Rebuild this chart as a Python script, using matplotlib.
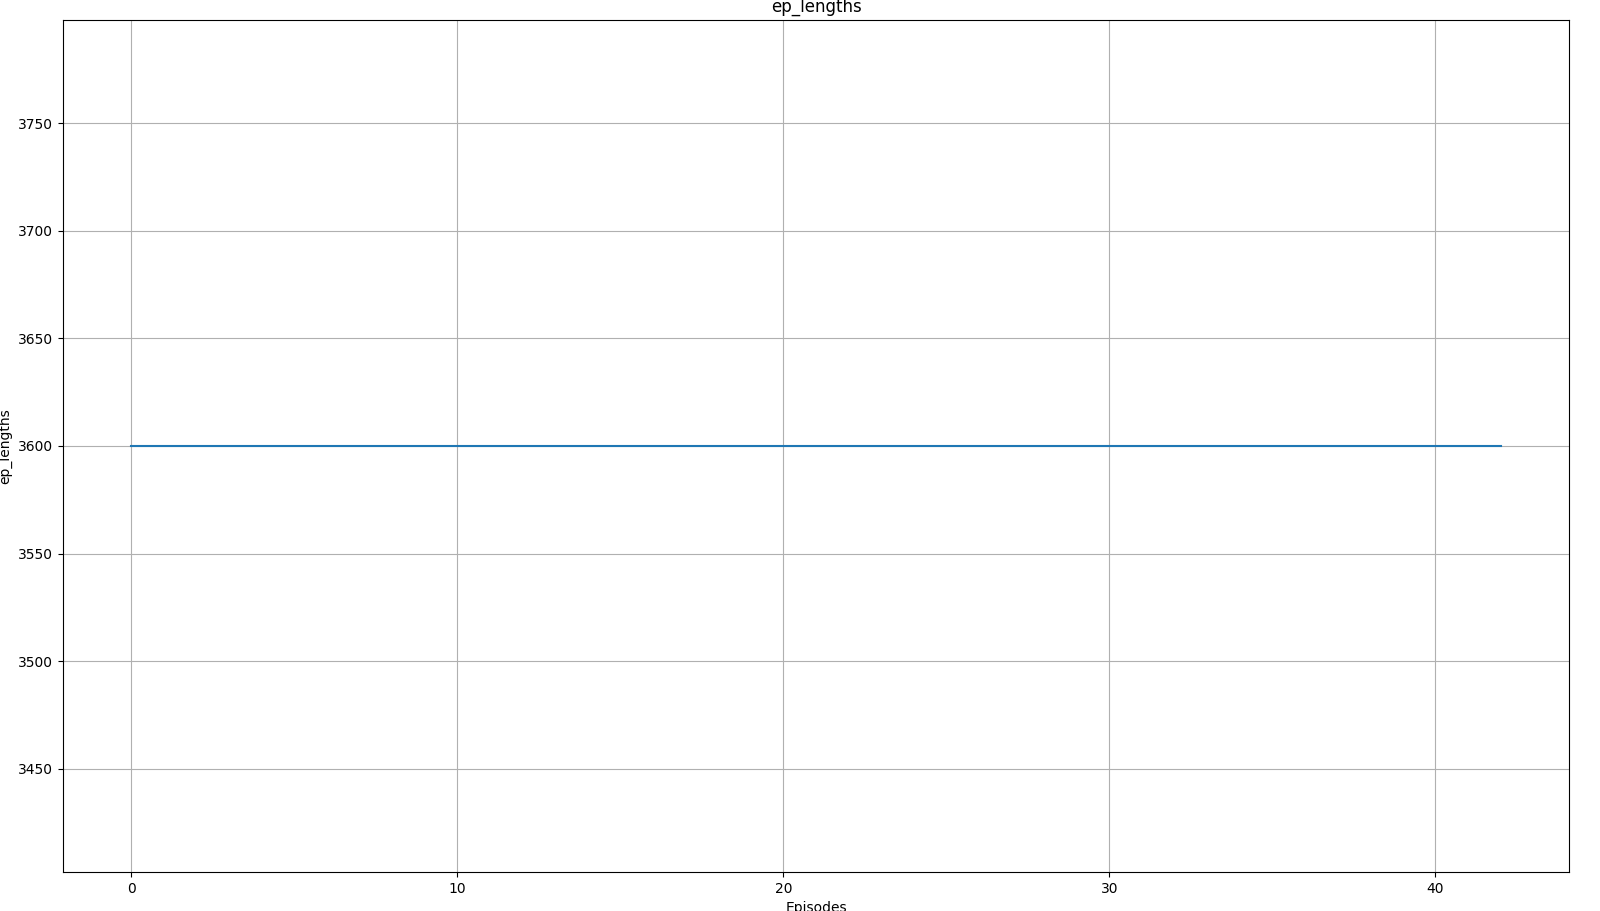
import matplotlib
matplotlib.use("Agg")
import matplotlib.pyplot as plt

episodes = list(range(43))
ep_lengths = [3600] * 43

fig = plt.figure(figsize=(16, 9.11), dpi=100)
ax = fig.add_axes([63/1600, 1 - 872/911, (1569 - 63)/1600, (872 - 20)/911])
ax.plot(episodes, ep_lengths)
ax.set_title("ep_lengths")
ax.set_xlabel("Episodes")
ax.set_ylabel("ep_lengths")
ax.grid(True)
fig.savefig("out.png", dpi=100)
